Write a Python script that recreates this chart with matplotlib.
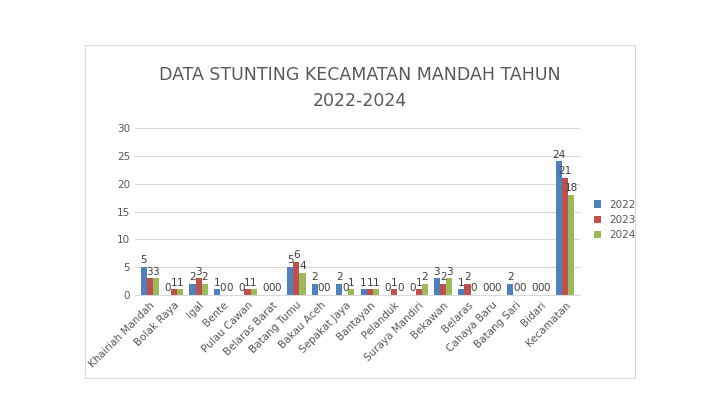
import numpy as np
import matplotlib.pyplot as plt
from matplotlib.patches import Rectangle

categories = ["Khairiah Mandah", "Bolak Raya", "Igal", "Bente", "Pulau Cawan",
              "Belaras Barat", "Batang Tumu", "Bakau Aceh", "Sepakat Jaya",
              "Bantayan", "Pelanduk", "Suraya Mandiri", "Bekawan", "Belaras",
              "Cahaya Baru", "Batang Sari", "Bidari", "Kecamatan"]
v2022 = [5, 0, 2, 1, 0, 0, 5, 2, 2, 1, 0, 0, 3, 1, 0, 2, 0, 24]
v2023 = [3, 1, 3, 0, 1, 0, 6, 0, 0, 1, 1, 1, 2, 2, 0, 0, 0, 21]
v2024 = [3, 1, 2, 0, 1, 0, 4, 0, 1, 1, 0, 2, 3, 0, 0, 0, 0, 18]
series = [("2022", v2022, "#4f81bd"), ("2023", v2023, "#c0504d"), ("2024", v2024, "#9bbb59")]

fig = plt.figure(figsize=(7.2, 4.0), dpi=100)
fig.patches.append(Rectangle((85 / 720, 1 - 378 / 400), 550 / 720, 333 / 400,
                             transform=fig.transFigure, fill=False, ec="#d9d9d9", lw=0.8))
ax = fig.add_axes([135 / 720, 1 - 295 / 400, 445 / 720, 167 / 400])

x = np.arange(len(categories))
w = 0.25
for i, (lab, vals, col) in enumerate(series):
    xs = x + (i - 1) * w
    ax.bar(xs, vals, w, color=col, label=lab)
    for xi, v in zip(xs, vals):
        ax.text(xi, v + 0.3, str(v), ha="center", va="bottom", fontsize=7.5, color="#404040")

ax.set_ylim(0, 30)
ax.set_yticks(range(0, 31, 5))
ax.set_xlim(-0.6, len(categories) - 0.4)
ax.yaxis.grid(True, color="#d9d9d9", lw=0.8)
ax.set_axisbelow(True)
for s in ["top", "right", "left"]:
    ax.spines[s].set_visible(False)
ax.spines["bottom"].set_color("#d9d9d9")
ax.tick_params(axis="both", length=0, labelsize=7.5, labelcolor="#595959")
ax.set_xticks(x)
ax.set_xticklabels(categories, rotation=45, ha="right", rotation_mode="anchor")

fig.text(0.5, 1 - 75 / 400, "DATA STUNTING KECAMATAN MANDAH TAHUN", ha="center", va="center",
         fontsize=12.5, color="#595959")
fig.text(0.5, 1 - 101 / 400, "2022-2024", ha="center", va="center", fontsize=12.5, color="#595959")
ax.legend(loc="center left", bbox_to_anchor=(1.01, 0.45), frameon=False, fontsize=7.5,
          handlelength=0.7, handleheight=0.7, labelcolor="#595959")

fig.savefig("out.png", dpi=100)
